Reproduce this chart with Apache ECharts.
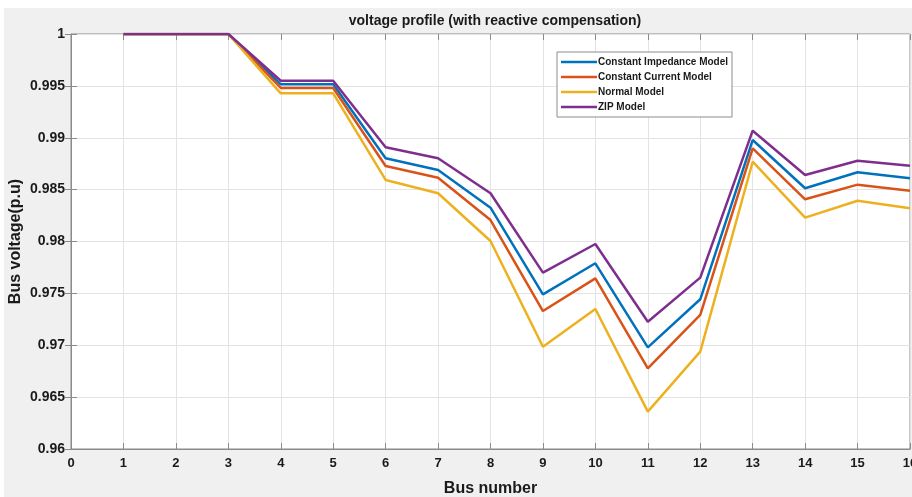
<!DOCTYPE html>
<html>
<head>
<meta charset="utf-8">
<script src="https://cdn.jsdelivr.net/npm/echarts@6/dist/echarts.min.js"></script>
<style>
html,body{margin:0;padding:0;background:#fff;}
#c{width:912px;height:497px;}
</style>
</head>
<body>
<div id="c"></div>
<script>
const busNumbers = [1,2,3,4,5,6,7,8,9,10,11,12,13,14,15,16];
const constantImpedance = [1,1,1,0.99515,0.99515,0.98802,0.98689,0.98326,0.97491,0.97790,0.96980,0.97443,0.98978,0.98513,0.98667,0.98609];
const constantCurrent  = [1,1,1,0.99480,0.99480,0.98728,0.98615,0.98207,0.97330,0.97645,0.96778,0.97292,0.98898,0.98407,0.98548,0.98490];
const normalModel      = [1,1,1,0.99428,0.99428,0.98593,0.98465,0.98005,0.96986,0.97349,0.96360,0.96938,0.98769,0.98230,0.98393,0.98320];
const zipModel         = [1,1,1,0.99549,0.99549,0.98908,0.98802,0.98465,0.97700,0.97976,0.97227,0.97652,0.99068,0.98641,0.98779,0.98731];
const seriesNames = ['Constant Impedance Model','Constant Current Model','Normal Model','ZIP Model'];
const colors = ['#0072BD','#D95319','#EDB120','#7E2F8E'];
const titleText = 'voltage profile (with reactive compensation)';
const xName = 'Bus number';
const yName = 'Bus voltage(p.u)';

const pair = arr => busNumbers.map((b,i)=>[b,arr[i]]);
const allData = [constantImpedance, constantCurrent, normalModel, zipModel];

const chart = echarts.init(document.getElementById('c'), null, {renderer:'canvas'});
const font = 'Liberation Sans, Arial, sans-serif';
const axisCol = '#8a8a8a';
chart.setOption({
  backgroundColor:'#fff',
  animation:false,
  textStyle:{fontFamily:font},
  graphic:[{type:'rect', z:-10, shape:{x:4,y:8,width:908,height:489}, style:{fill:'#f0f0f0'}}],
  title:{text:titleText, left:490, top:9, textAlign:'center',
    textStyle:{fontSize:14, fontWeight:'bold', color:'#1a1a1a', fontFamily:font}},
  legend:{
    data:seriesNames, orient:'vertical', left:557, top:52,
    backgroundColor:'#fff', borderColor:'#8c8c8c', borderWidth:1,
    padding:[5,4,5,4], itemGap:5, itemWidth:36, itemHeight:2.5, icon:'rect',
    textStyle:{fontSize:10, fontWeight:'bold', color:'#1a1a1a', fontFamily:font, padding:[0,0,0,-4]}
  },
  grid:{left:71, right:2, top:34, bottom:48, outerBoundsMode:'none', containLabel:false,
    show:true, backgroundColor:'#fff', borderColor:axisCol, borderWidth:1},
  xAxis:[{
    type:'value', min:0, max:16, interval:1,
    name:xName, nameLocation:'middle', nameGap:32, nameMoveOverlap:false,
    nameTextStyle:{fontSize:16, fontWeight:'bold', color:'#1a1a1a'},
    axisLine:{lineStyle:{color:axisCol}},
    axisTick:{inside:true, length:6, lineStyle:{color:axisCol}},
    axisLabel:{fontSize:13, fontWeight:'bold', color:'#1a1a1a', margin:8},
    splitLine:{show:true, lineStyle:{color:'#e3e3e3'}}
  },{
    type:'value', min:0, max:16, interval:1, position:'top',
    axisLine:{show:false}, axisTick:{inside:true,length:6,lineStyle:{color:axisCol}},
    axisLabel:{show:false}, splitLine:{show:false}
  }],
  yAxis:[{
    type:'value', min:0.96, max:1, interval:0.005,
    name:yName, nameLocation:'middle', nameGap:47, nameMoveOverlap:false,
    nameTextStyle:{fontSize:16, fontWeight:'bold', color:'#1a1a1a'},
    axisLine:{show:true, lineStyle:{color:axisCol}},
    axisTick:{show:true, inside:true, length:6, lineStyle:{color:axisCol}},
    axisLabel:{fontSize:14, fontWeight:'bold', color:'#1a1a1a', margin:6,
      formatter:v=>String(parseFloat(v.toFixed(3)))},
    splitLine:{show:true, lineStyle:{color:'#e3e3e3'}}
  },{
    type:'value', min:0.96, max:1, interval:0.005, position:'right',
    axisLine:{show:false}, axisTick:{show:true,inside:true,length:6,lineStyle:{color:axisCol}},
    axisLabel:{show:false}, splitLine:{show:false}
  }],
  series: seriesNames.map((n,i)=>({
    name:n, type:'line', data:pair(allData[i]), showSymbol:false, symbol:'none',
    color:colors[i], lineStyle:{width:2.5, color:colors[i]}, z:2+i
  }))
});
</script>
</body>
</html>
